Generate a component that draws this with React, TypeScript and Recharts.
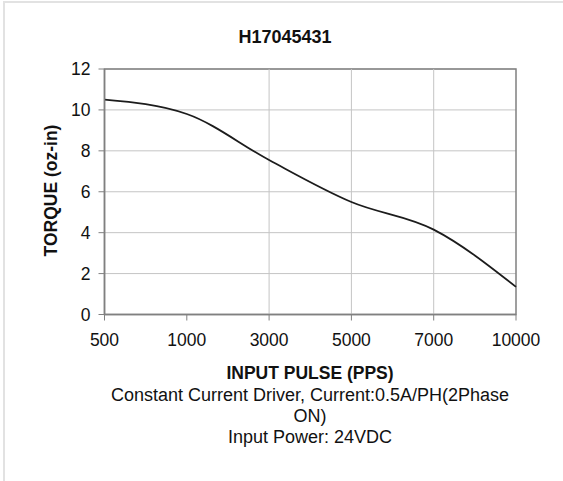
import React from 'react';
import {
  LineChart,
  Line,
  XAxis,
  YAxis,
  CartesianGrid,
  ReferenceLine,
  ReferenceArea,
} from 'recharts';

const pulseLabels = ['500', '1000', '3000', '5000', '7000', '10000'];
const torqueValues = [10.5, 9.8, 7.55, 5.5, 4.15, 1.35];
const torqueTicks = [0, 2, 4, 6, 8, 10, 12];
const gridPulses = ['3000', '5000', '7000'];

const chartData = pulseLabels.map((pulse, i) => ({
  idx: i,
  pulse,
  torque: torqueValues[i],
}));

const FONT = "'Liberation Sans', Arial, sans-serif";
const TEXT = '#111';

export default function App() {
  return (
    <div style={{ position: 'absolute', left: 0, top: 0, width: 563, height: 481, background: '#fff', fontFamily: FONT }}>
      {/* light outer frame of the original chart object */}
      <div
        style={{
          position: 'absolute',
          left: 3,
          top: 1,
          width: 620,
          height: 520,
          borderTop: '2px solid #e2e2e2',
          borderLeft: '2px solid #e2e2e2',
        }}
      />
      <div style={{ position: 'absolute', left: 0, top: 0 }}>
        <LineChart
          width={563}
          height={481}
          data={chartData}
          margin={{ top: 69, right: 47, bottom: 136.5, left: 44.5 }}
        >
          <CartesianGrid vertical={false} stroke="#c4c4c4" strokeWidth={1} />
          {gridPulses.map((p) => (
            <ReferenceLine key={p} x={pulseLabels.indexOf(p)} stroke="#c4c4c4" strokeWidth={1} />
          ))}
          <XAxis
            dataKey="idx"
            type="number"
            domain={[0, pulseLabels.length - 1]}
            ticks={pulseLabels.map((_, i) => i)}
            tickFormatter={(v: number) => pulseLabels[v]}
            height={30}
            axisLine={{ stroke: '#808080', strokeWidth: 1.5 }}
            tickLine={{ stroke: '#808080' }}
            tickSize={6}
            tickMargin={13}
            tick={{ fill: TEXT, fontSize: 17.5, fontFamily: FONT }}
          />
          <YAxis
            type="number"
            domain={[0, 12]}
            ticks={torqueTicks}
            width={60}
            axisLine={{ stroke: '#808080', strokeWidth: 1.5 }}
            tickLine={{ stroke: '#808080' }}
            tickSize={6}
            tickMargin={8}
            tick={{ fill: TEXT, fontSize: 17.5, fontFamily: FONT }}
          />
          <ReferenceArea
            x1={0}
            x2={pulseLabels.length - 1}
            y1={0}
            y2={12}
            fill="none"
            fillOpacity={0}
            stroke="#808080"
            strokeWidth={1.5}
          />
          <Line
            type="monotone"
            dataKey="torque"
            stroke="#1c1c1c"
            strokeWidth={1.8}
            dot={false}
            isAnimationActive={false}
          />
        </LineChart>
      </div>
      <svg
        width={563}
        height={481}
        style={{ position: 'absolute', left: 0, top: 0, pointerEvents: 'none' }}
        fontFamily={FONT}
        fill={TEXT}
      >
        <text x={285} y={42.7} textAnchor="middle" fontSize={18} fontWeight="bold">
          H17045431
        </text>
        <text
          transform="translate(57.3,190.5) rotate(-90)"
          textAnchor="middle"
          fontSize={17.5}
          fontWeight="bold"
        >
          TORQUE (oz-in)
        </text>
        <text x={310} y={379} textAnchor="middle" fontSize={17.5} fontWeight="bold">
          INPUT PULSE (PPS)
        </text>
        <text x={310} y={400.5} textAnchor="middle" fontSize={18}>
          Constant Current Driver, Current:0.5A/PH(2Phase
        </text>
        <text x={310} y={421.7} textAnchor="middle" fontSize={18}>
          ON)
        </text>
        <text x={310} y={443} textAnchor="middle" fontSize={18}>
          Input Power: 24VDC
        </text>
      </svg>
    </div>
  );
}
